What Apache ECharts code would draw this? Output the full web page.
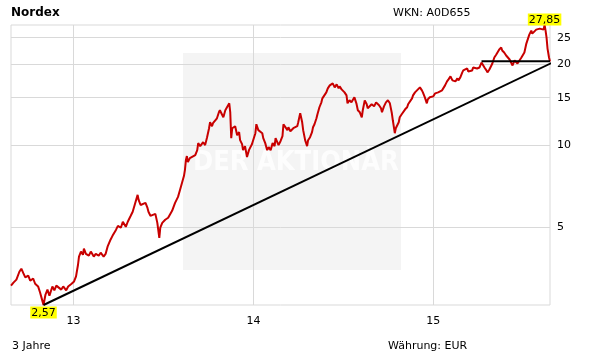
<!DOCTYPE html>
<html>
<head>
<meta charset="utf-8">
<script src="https://cdn.jsdelivr.net/npm/echarts@6.0.0/dist/echarts.min.js"></script>
<style>
  html, body { margin: 0; padding: 0; background: #fff; }
  #chart { width: 611px; height: 364px; }
</style>
</head>
<body>
<div id="chart"></div>
<script>
// Nordex, 3 Jahre (Schlusskurse in EUR)
const dates = [
  '2012-08-27','2012-09-01','2012-09-07','2012-09-13','2012-09-17','2012-09-21','2012-09-25','2012-10-01','2012-10-05','2012-10-11',
  '2012-10-15','2012-10-21','2012-10-25','2012-10-29','2012-11-01','2012-11-05','2012-11-09','2012-11-13','2012-11-19','2012-11-23',
  '2012-11-27','2012-12-01','2012-12-07','2012-12-11','2012-12-17','2012-12-21','2012-12-28','2013-01-02','2013-01-06','2013-01-10',
  '2013-01-12','2013-01-16','2013-01-20','2013-01-22','2013-01-26','2013-02-01','2013-02-05','2013-02-11','2013-02-15','2013-02-21',
  '2013-02-25','2013-03-03','2013-03-07','2013-03-11','2013-03-17','2013-03-21','2013-03-28','2013-04-01','2013-04-03','2013-04-07',
  '2013-04-11','2013-04-17','2013-04-21','2013-04-23','2013-04-27','2013-05-01','2013-05-05','2013-05-11','2013-05-13','2013-05-17',
  '2013-05-21','2013-05-27','2013-05-31','2013-06-02','2013-06-06','2013-06-10','2013-06-16','2013-06-20','2013-06-24','2013-06-26',
  '2013-06-30','2013-07-06','2013-07-12','2013-07-16','2013-07-20','2013-07-26','2013-08-01','2013-08-05','2013-08-09','2013-08-13',
  '2013-08-15','2013-08-17','2013-08-19','2013-08-21','2013-08-25','2013-08-29','2013-09-05','2013-09-09','2013-09-11','2013-09-15',
  '2013-09-21','2013-09-25','2013-09-29','2013-10-03','2013-10-05','2013-10-09','2013-10-11','2013-10-15','2013-10-19','2013-10-23',
  '2013-10-25','2013-10-29','2013-11-01','2013-11-05','2013-11-09','2013-11-13','2013-11-15','2013-11-17','2013-11-19','2013-11-21',
  '2013-11-25','2013-11-29','2013-12-03','2013-12-05','2013-12-09','2013-12-11','2013-12-15','2013-12-19','2013-12-23','2013-12-25',
  '2013-12-29','2014-01-01','2014-01-05','2014-01-07','2014-01-11','2014-01-15','2014-01-19','2014-01-21','2014-01-25','2014-01-29',
  '2014-02-01','2014-02-05','2014-02-09','2014-02-13','2014-02-15','2014-02-21','2014-02-25','2014-03-01','2014-03-03','2014-03-07',
  '2014-03-11','2014-03-13','2014-03-17','2014-03-21','2014-03-23','2014-03-27','2014-03-31','2014-04-02','2014-04-06','2014-04-10',
  '2014-04-12','2014-04-16','2014-04-20','2014-04-22','2014-04-26','2014-04-30','2014-05-02','2014-05-05','2014-05-09','2014-05-11',
  '2014-05-15','2014-05-19','2014-05-21','2014-05-25','2014-05-29','2014-06-01','2014-06-05','2014-06-09','2014-06-11','2014-06-15',
  '2014-06-19','2014-06-23','2014-06-25','2014-06-29','2014-07-01','2014-07-05','2014-07-09','2014-07-11','2014-07-15','2014-07-19',
  '2014-07-21','2014-07-25','2014-07-29','2014-08-01','2014-08-05','2014-08-09','2014-08-11','2014-08-15','2014-08-19','2014-08-21',
  '2014-08-25','2014-08-29','2014-09-01','2014-09-03','2014-09-07','2014-09-09','2014-09-13','2014-09-17','2014-09-19','2014-09-23',
  '2014-09-27','2014-10-01','2014-10-05','2014-10-09','2014-10-11','2014-10-15','2014-10-17','2014-10-19','2014-10-23','2014-10-25',
  '2014-10-29','2014-11-01','2014-11-05','2014-11-09','2014-11-11','2014-11-15','2014-11-19','2014-11-21','2014-11-25','2014-11-29',
  '2014-12-01','2014-12-05','2014-12-09','2014-12-11','2014-12-15','2014-12-19','2014-12-21','2014-12-25','2014-12-29','2015-01-01',
  '2015-01-05','2015-01-09','2015-01-11','2015-01-15','2015-01-19','2015-01-21','2015-01-25','2015-01-29','2015-02-01','2015-02-05',
  '2015-02-09','2015-02-11','2015-02-15','2015-02-19','2015-02-21','2015-02-25','2015-03-01','2015-03-03','2015-03-07','2015-03-11',
  '2015-03-13','2015-03-17','2015-03-21','2015-03-23','2015-03-27','2015-03-31','2015-04-01','2015-04-05','2015-04-09','2015-04-11',
  '2015-04-15','2015-04-19','2015-04-21','2015-04-25','2015-04-29','2015-05-01','2015-05-05','2015-05-09','2015-05-11','2015-05-15',
  '2015-05-19','2015-05-21','2015-05-25','2015-05-29','2015-06-01','2015-06-05','2015-06-09','2015-06-11','2015-06-15','2015-06-19',
  '2015-06-21','2015-06-25','2015-06-29','2015-07-01','2015-07-05','2015-07-09','2015-07-13','2015-07-15','2015-07-19','2015-07-21',
  '2015-07-25','2015-07-29','2015-08-01','2015-08-05','2015-08-09','2015-08-13','2015-08-15','2015-08-17','2015-08-19','2015-08-21',
  '2015-08-24','2015-08-26'
];
const prices = [
  3.03, 3.11, 3.19, 3.41, 3.50, 3.37, 3.25, 3.30, 3.16, 3.22,
  3.08, 3.01, 2.86, 2.69, 2.57, 2.81, 2.93, 2.78, 3.01, 2.91,
  3.03, 3.08, 2.93, 3.01, 2.91, 3.01, 3.08, 3.14, 3.28, 3.62,
  3.88, 4.05, 3.94, 4.15, 3.97, 3.91, 4.05, 3.88, 3.97, 3.91,
  4.01, 3.88, 3.97, 4.22, 4.48, 4.63, 4.87, 5.04, 5.09, 4.96,
  5.22, 5.00, 5.22, 5.31, 5.49, 5.68, 6.02, 6.56, 6.29, 6.02,
  5.92, 6.13, 5.87, 5.68, 5.49, 5.44, 5.58, 5.17, 4.55, 4.96,
  5.17, 5.31, 5.40, 5.49, 5.73, 6.13, 6.45, 6.84, 7.26, 7.70,
  8.10, 8.82, 9.13, 8.67, 8.97, 8.82, 9.20, 9.60, 10.19, 9.93,
  10.27, 10.02, 10.72, 11.57, 12.17, 11.77, 12.07, 12.27, 12.59, 13.25,
  13.48, 13.03, 12.70, 13.48, 13.71, 14.30, 13.25, 10.63, 11.57, 11.38,
  11.77, 10.90, 11.19, 10.45, 10.10, 9.60, 9.93, 9.05, 9.60, 9.77,
  10.10, 10.02, 11.09, 11.97, 11.38, 11.57, 11.09, 10.63, 10.19, 9.60,
  9.85, 9.60, 10.19, 9.93, 10.63, 10.02, 10.36, 10.81, 11.97, 12.07,
  11.38, 11.67, 11.28, 11.19, 11.57, 11.57, 11.77, 12.17, 13.14, 12.17,
  11.38, 10.45, 9.93, 10.45, 10.72, 11.19, 11.67, 11.97, 12.59, 13.03,
  13.83, 14.42, 14.92, 15.17, 15.70, 16.24, 16.66, 16.52, 16.94, 16.38,
  16.80, 16.24, 16.52, 16.10, 15.97, 15.70, 15.30, 14.30, 14.67, 14.42,
  14.18, 15.05, 14.30, 13.48, 13.25, 12.70, 13.48, 14.67, 14.18, 13.71,
  13.83, 14.18, 14.42, 13.94, 14.42, 14.18, 14.06, 13.71, 13.25, 13.94,
  14.42, 14.67, 14.30, 13.14, 12.38, 11.09, 11.57, 11.38, 12.17, 12.70,
  13.03, 13.25, 13.59, 13.83, 14.18, 14.42, 14.92, 15.30, 15.70, 15.97,
  16.24, 16.38, 15.97, 15.70, 15.05, 14.30, 14.79, 15.05, 15.30, 15.17,
  15.57, 15.43, 15.70, 15.83, 15.97, 16.24, 16.66, 17.23, 17.53, 17.98,
  17.38, 17.53, 17.23, 17.68, 17.38, 17.83, 18.60, 18.92, 19.08, 19.24,
  18.76, 19.08, 18.92, 19.40, 19.08, 19.24, 19.56, 19.40, 20.24, 19.90,
  19.40, 18.92, 18.60, 19.08, 19.24, 20.07, 21.12, 21.66, 22.03, 22.60,
  22.99, 22.41, 22.03, 21.48, 21.12, 20.76, 20.59, 19.73, 20.59, 20.41,
  20.07, 20.41, 21.12, 20.94, 22.03, 23.78, 25.02, 25.66, 26.55, 25.88,
  26.10, 26.77, 26.33, 27.00, 27.23, 26.77, 27.85, 26.55, 25.02, 22.79,
  21.12, 20.41
];

// Trendlinien
const trendDates = ['2012-11-01', '2015-09-09'];
const trendValues = [2.57, 20.6];
const supportDates = ['2015-04-09', '2015-08-26'];
const supportValues = [20.45, 20.45];

// Achsen
const startDate = '2012-08-27';
const endDate = '2015-08-26';
const yearTicks = ['2013-01-01', '2014-01-01', '2015-01-01'];
const priceTicks = [5, 10, 15, 20, 25];

const FONT = 'DejaVu Sans';
const GRID_COLOR = '#d9d9d9';

const chart = echarts.init(document.getElementById('chart'));

function ts(d) {
  return Date.parse(d + 'T00:00:00Z');
}

function comma(v) {
  return v.toFixed(2).replace('.', ',');
}

function pairs(xs, ys) {
  return xs.map((x, i) => [ts(x), ys[i]]);
}

const plainText = { fontSize: 11, fontWeight: 'normal', color: '#000', fontFamily: FONT };

const option = {
  animation: false,
  textStyle: { fontFamily: FONT },
  title: [
    { text: 'Nordex', left: 11, top: 7, padding: 0,
      textStyle: { fontSize: 12, fontWeight: 'bold', color: '#000', fontFamily: FONT } },
    { text: 'WKN: A0D655', left: 393, top: 8, padding: 0, textStyle: plainText },
    { text: '3 Jahre', left: 12, top: 341, padding: 0, textStyle: plainText },
    { text: 'Währung: EUR', left: 388, top: 341, padding: 0, textStyle: plainText }
  ],
  // Wasserzeichen
  graphic: [
    { type: 'rect', left: 183, top: 53, z: -1,
      shape: { width: 218, height: 217 }, style: { fill: '#f4f4f4' } },
    { type: 'text', left: 193, top: 149, z: -1,
      style: { text: 'DER AKTIONÄR', fill: '#fdfdfd', font: 'bold 27px "DejaVu Sans Condensed"' } }
  ],
  grid: { left: 11, right: 61, top: 25, bottom: 59, show: true, borderColor: GRID_COLOR, borderWidth: 1 },
  xAxis: {
    type: 'value',
    min: ts(startDate),
    max: ts(endDate),
    axisLine: { show: false },
    axisTick: { show: false, customValues: yearTicks.map(ts) },
    axisLabel: {
      customValues: yearTicks.map(ts),
      margin: 11,
      color: '#000',
      fontSize: 11,
      fontFamily: FONT,
      formatter: v => String(new Date(v).getUTCFullYear()).slice(2)
    },
    splitLine: { show: true, lineStyle: { color: GRID_COLOR, width: 1 } }
  },
  yAxis: {
    type: 'log',
    position: 'right',
    min: 2.57,
    max: 27.85,
    axisLine: { show: false },
    axisTick: { show: false, customValues: priceTicks },
    axisLabel: {
      customValues: priceTicks,
      margin: 7,
      color: '#000',
      fontSize: 11,
      fontFamily: FONT,
      formatter: v => String(Math.round(v))
    },
    splitLine: { show: true, lineStyle: { color: GRID_COLOR, width: 1 } }
  },
  series: [
    {
      type: 'line',
      data: pairs(dates, prices),
      symbol: 'none',
      lineStyle: { color: '#c80000', width: 2 },
      itemStyle: { color: '#c80000' },
      markPoint: {
        symbol: 'rect',
        symbolSize: 1,
        itemStyle: { color: 'rgba(0,0,0,0)' },
        label: {
          show: true,
          color: '#000',
          fontSize: 11,
          fontFamily: FONT,
          backgroundColor: '#ffff00',
          padding: [1, 1, 0, 1],
          distance: 1,
          formatter: p => comma(p.value)
        },
        data: [
          { type: 'min', label: { position: 'bottom' } },
          { type: 'max', label: { position: 'top', offset: [0, 2] } }
        ]
      }
    },
    {
      type: 'line',
      data: pairs(trendDates, trendValues),
      symbol: 'none',
      clip: false,
      lineStyle: { color: '#000', width: 2 }
    },
    {
      type: 'line',
      data: pairs(supportDates, supportValues),
      symbol: 'none',
      lineStyle: { color: '#000', width: 2 }
    }
  ]
};

chart.setOption(option);
</script>
</body>
</html>
